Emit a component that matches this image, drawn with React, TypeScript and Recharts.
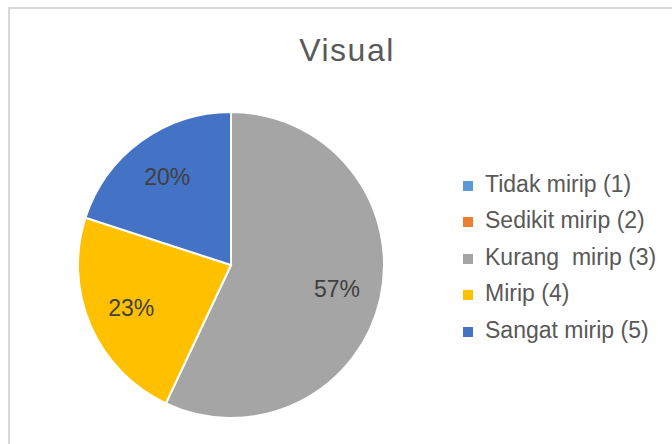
import { PieChart, Pie, Cell, Legend } from "recharts";

// Visual rating distribution (percent of responses)
const categories = [
  "Tidak mirip (1)",
  "Sedikit mirip (2)",
  "Kurang  mirip (3)",
  "Mirip (4)",
  "Sangat mirip (5)",
];
const percentages = [0, 0, 57, 23, 20];
const colors = ["#5B9BD5", "#ED7D31", "#A5A5A5", "#FFC000", "#4472C4"];

const data = categories.map((name, i) => ({ name, value: percentages[i] }));

const FONT = "'Liberation Sans', Arial, Helvetica, sans-serif";
const RAD = Math.PI / 180;

interface LabelProps {
  cx?: number;
  cy?: number;
  midAngle?: number;
  outerRadius?: number;
  value?: number;
}

function renderLabel({ cx = 0, cy = 0, midAngle = 0, outerRadius = 0, value = 0 }: LabelProps) {
  if (!value) return null;
  const r = outerRadius * 0.71;
  const x = cx + r * Math.cos(-midAngle * RAD);
  const y = cy + r * Math.sin(-midAngle * RAD);
  return (
    <text
      x={x}
      y={y}
      fill="#404040"
      fontSize={23}
      fontFamily={FONT}
      textAnchor="middle"
      dominantBaseline="central"
    >
      {`${value}%`}
    </text>
  );
}

function LegendList() {
  return (
    <div style={{ fontFamily: FONT, fontSize: 23, color: "#595959" }}>
      {categories.map((name, i) => (
        <div
          key={name}
          style={{ display: "flex", alignItems: "center", height: 36.5, whiteSpace: "pre" }}
        >
          <span
            style={{
              display: "inline-block",
              width: 10,
              height: 10,
              background: colors[i],
              marginRight: 12,
              marginTop: 3,
            }}
          />
          {name}
        </div>
      ))}
    </div>
  );
}

export default function App() {
  return (
    <div
      style={{
        position: "fixed",
        left: 0,
        top: 0,
        width: 672,
        height: 444,
        overflow: "hidden",
        background: "#fff",
      }}
    >
      <div
        style={{
          position: "absolute",
          left: 8,
          top: 7,
          width: 700,
          height: 500,
          borderLeft: "2px solid #d9d9d9",
          borderTop: "2px solid #d9d9d9",
        }}
      />
      <div style={{ position: "absolute", left: 0, top: 0 }}>
        <PieChart width={672} height={444} margin={{ top: 0, right: 0, bottom: 0, left: 0 }}>
          <text
            x={347}
            y={50}
            fill="#595959"
            fontSize={32}
            fontFamily={FONT}
            letterSpacing={1.5}
            textAnchor="middle"
            dominantBaseline="central"
          >
            Visual
          </text>
          <Pie
            data={data}
            dataKey="value"
            nameKey="name"
            cx={231}
            cy={265}
            outerRadius={153}
            startAngle={90}
            endAngle={-270}
            stroke="#ffffff"
            strokeWidth={2}
            label={renderLabel}
            labelLine={false}
            isAnimationActive={false}
          >
            {data.map((d, i) => (
              <Cell key={d.name} fill={colors[i]} />
            ))}
          </Pie>
          <Legend
            layout="vertical"
            content={() => <LegendList />}
            wrapperStyle={{ left: 463, top: 166, width: 210 }}
          />
        </PieChart>
      </div>
    </div>
  );
}
